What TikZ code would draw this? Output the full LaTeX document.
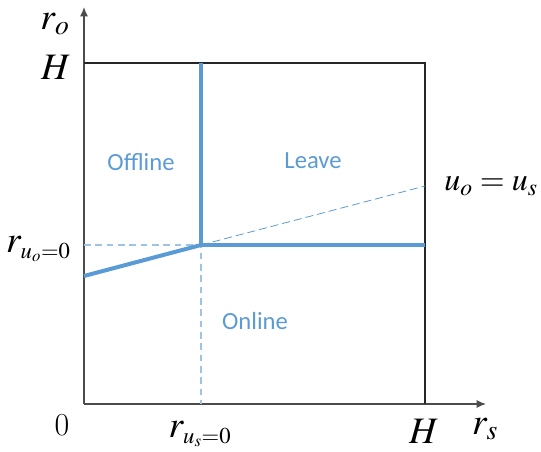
\documentclass[tikz,border=0pt]{standalone}
\usepackage{mathptmx}
\usepackage[no-math]{fontspec}
\newfontfamily\zonefont{Carlito}
\usetikzlibrary{arrows.meta}
\definecolor{pblue}{HTML}{5B9BD5}
\definecolor{plight}{HTML}{9DC3E6}
\tikzset{
  pbase/.style={x=0.75pt, y=-0.75pt},
  p axis/.style={draw=black!70, line width=1pt, -{Latex[length=7pt, width=6pt]}},
  p edge/.style={draw=black!85, line width=0.9pt},
  p bound/.style={draw=pblue, line width=3pt},
  p guide/.style={draw=plight, line width=0.8pt, dash pattern=on 5pt off 3.5pt},
  p ext/.style={draw=pblue, line width=0.6pt, dash pattern=on 6pt off 3pt},
  p zone/.style={text=pblue, font=\zonefont\fontsize{18.5}{21}\selectfont, inner sep=0pt},
  p math/.style={font=\fontsize{28}{30}\selectfont, inner sep=0pt},
}
\newcommand{\subsm}[1]{\mbox{\fontsize{17}{19}\selectfont$#1$}}

\begin{document}
\begin{tikzpicture}[pbase]
\useasboundingbox (0,0) rectangle (541,451);
% ---- frame points ----
\coordinate (o) at (84,404);   \coordinate (xa) at (486,404); \coordinate (ya) at (84,7);
\coordinate (tl) at (84,63);   \coordinate (tr) at (425,63);  \coordinate (br) at (425,404);
\coordinate (c) at (201,245);
\coordinate (cl) at (84,245);  \coordinate (cb) at (201,404);
\coordinate (ct) at (201,63);  \coordinate (cr) at (425,245);
\coordinate (sl) at (84,276);  \coordinate (sr) at (425,186);
% ---- axes and box ----
\draw[p axis] (o) -- (xa);
\draw[p axis] (o) -- (ya);
\draw[p edge] (tl) -- (tr) -- (br);
% ---- guides ----
\draw[p guide] (cl) -- (c) -- (cb);
\draw[p ext] (c) -- (sr);
% ---- boundaries ----
\draw[p bound] (ct) -- (c) -- (cr);
\draw[p bound] (sl) -- (c);
% ---- regions ----
\node[p zone] (off) at (141,162) {Offline};
\node[p zone] (lea) at (313,161) {Leave};
\node[p zone] (onl) at (255,321) {Online};
% ---- axis labels ----
\node[p math] (ro) at (55,24) {$r_o$};
\node[p math] (hy) at (56,67) {$H$};
\node[p math, anchor=east] (ruo) at (71,249) {$r_{\subsm{u_o{=}0}}$};
\node[p math, font=\fontsize{24}{26}\selectfont] (zero) at (62,425) {0};
\node[p math] (rus) at (200,434) {$r_{\subsm{u_s{=}0}}$};
\node[p math] (hx) at (424,431) {$H$};
\node[p math] (rs) at (485,429) {$r_s$};
\node[p math, font=\fontsize{24}{26}\selectfont, anchor=west] (eq) at (444,186) {$u_o=u_s$};
\end{tikzpicture}
\end{document}
